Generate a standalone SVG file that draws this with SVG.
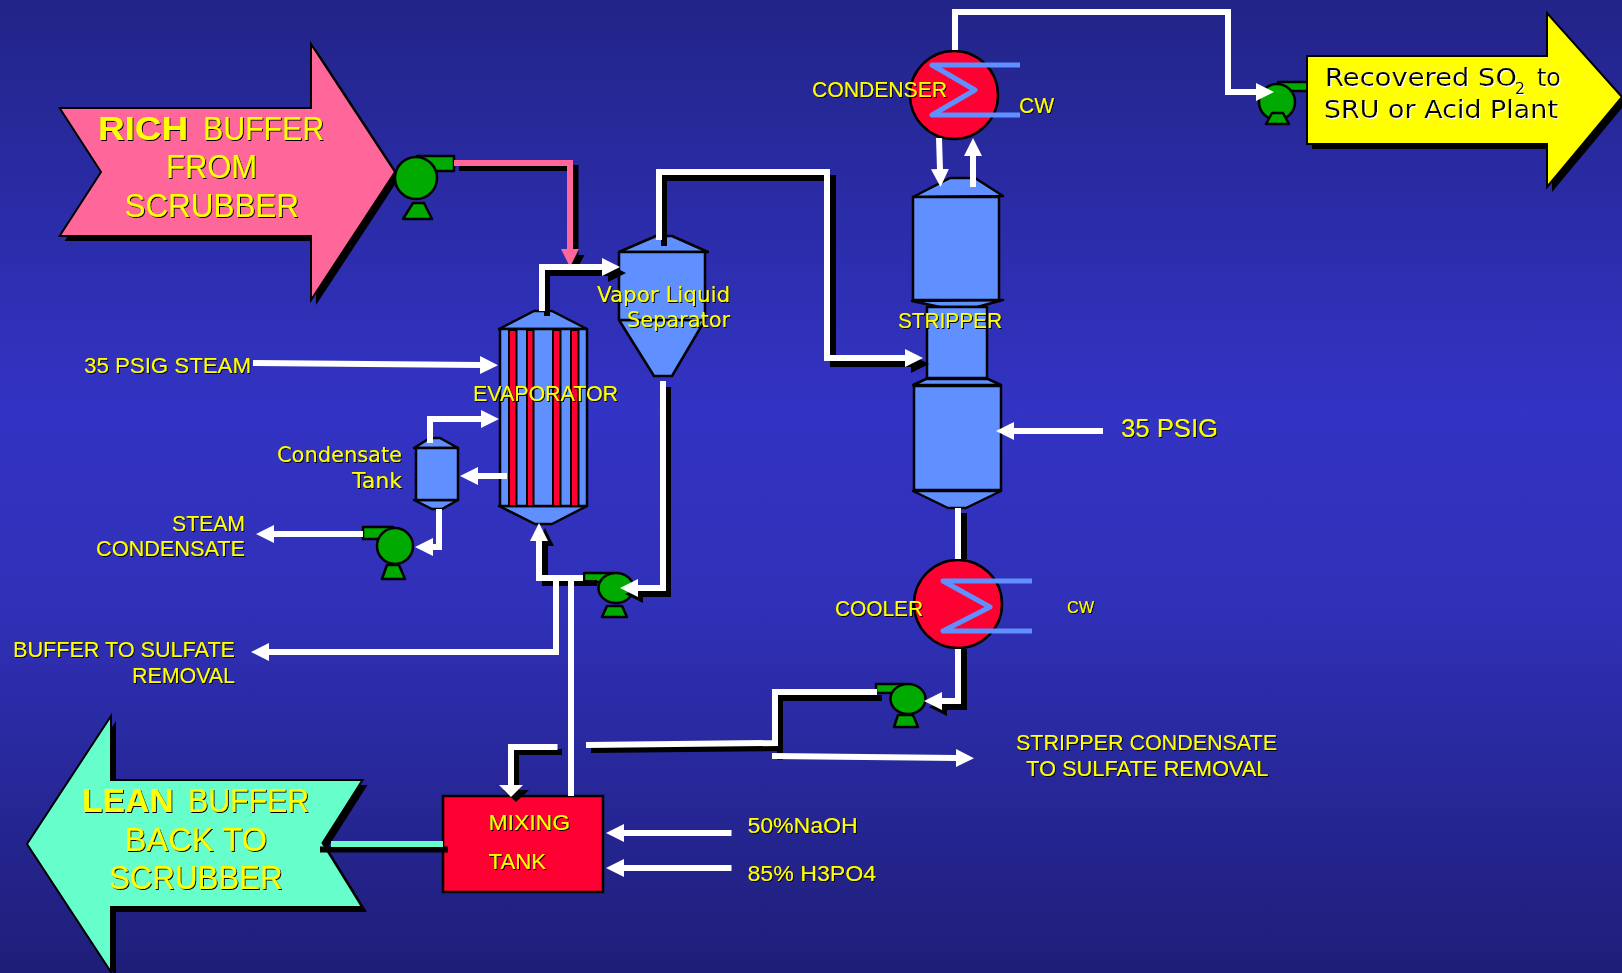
<svg xmlns="http://www.w3.org/2000/svg" width="1622" height="973" viewBox="0 0 1622 973">
<defs>
<linearGradient id="bg" x1="0" y1="0" x2="0" y2="1"><stop offset="0" stop-color="#222488"/><stop offset="0.42" stop-color="#3333c4"/><stop offset="0.62" stop-color="#3030b8"/><stop offset="1" stop-color="#1e1e78"/></linearGradient>
<filter id="ts" x="-5%" y="-20%" width="110%" height="140%"><feDropShadow dx="1" dy="1" stdDeviation="0" flood-color="#000"/></filter>
<filter id="tw" x="-5%" y="-20%" width="110%" height="140%"><feDropShadow dx="1" dy="1" stdDeviation="0" flood-color="#fff"/></filter>
<marker id="hw" markerWidth="18" markerHeight="20" refX="1" refY="10" orient="auto" markerUnits="userSpaceOnUse"><path d="M0 1L18 10L0 19z" fill="#fff"/></marker>
<marker id="hp" markerWidth="18" markerHeight="20" refX="1" refY="10" orient="auto" markerUnits="userSpaceOnUse"><path d="M0 1L18 10L0 19z" fill="#ff6699"/></marker>
<marker id="hsw" markerWidth="13" markerHeight="26" refX="1" refY="13" orient="auto" markerUnits="userSpaceOnUse"><path d="M0 1L12 13L0 25z" fill="#fff"/></marker>
</defs>
<style>
.eq{fill:#6090ff;stroke:#000;stroke-width:2.5;stroke-linejoin:round}
.tube{fill:#ff0033;stroke:#000;stroke-width:2}
.hx{fill:#ff0033;stroke:#000;stroke-width:2.5}
.coil{fill:none;stroke:#6090ff;stroke-width:5;stroke-linejoin:round}
.pu{fill:#00aa00;stroke:#000;stroke-width:2.5;stroke-linejoin:round}
.bs{stroke:#000;stroke-width:2;stroke-linejoin:miter}
.w{fill:none;stroke:#fff;stroke-width:6;marker-end:url(#hw)}
.wn{fill:none;stroke:#fff;stroke-width:6}
.kn{fill:none;stroke:#000;stroke-width:6}
text{font-family:"Liberation Sans",Arial,sans-serif;fill:#ffff00;filter:url(#ts)}
.big{font-size:34px}
.bold{font-weight:700}
.lab{font-size:22.500px}
.mix{font-family:"DejaVu Sans",Verdana,sans-serif;font-size:21px}
.rec{font-family:"DejaVu Sans",Verdana,sans-serif;font-size:25px;fill:#000;filter:url(#tw)}
</style>
<rect width="1622" height="973" fill="url(#bg)"/>

<g id="rich-arrow">
<polygon points="64.6,113 316,113 316,49 400,177 316,305 316,241 64.6,241 106,177" fill="#000"/>
<polygon points="59.6,108 311,108 311,44 395,172 311,300 311,236 59.6,236 101,172" fill="#ff6699" class="bs"/>
<text class="big bold" x="98" y="140" textLength="90" lengthAdjust="spacingAndGlyphs">RICH</text>
<text class="big" x="203" y="140" textLength="121" lengthAdjust="spacingAndGlyphs">BUFFER</text>
<text class="big" x="166" y="178" textLength="91" lengthAdjust="spacingAndGlyphs">FROM</text>
<text class="big" x="124.5" y="217" textLength="174.5" lengthAdjust="spacingAndGlyphs">SCRUBBER</text>
</g>

<g id="lean-arrow">
<polygon points="32,849 116,721 116,785 367.5,785 327.5,848 367,912 116,912 116,977" fill="#000"/>
<polygon points="27,844 111,716 111,780 362.5,780 322.5,843 362,907 111,907 111,972" fill="#66ffcc" class="bs"/>
<text class="big bold" x="82" y="812" textLength="91.500" lengthAdjust="spacingAndGlyphs">LEAN</text>
<text class="big" x="188" y="812" textLength="121" lengthAdjust="spacingAndGlyphs">BUFFER</text>
<text class="big" x="124.500" y="851" textLength="142.500" lengthAdjust="spacingAndGlyphs">BACK TO</text>
<text class="big" x="109" y="889" textLength="173.500" lengthAdjust="spacingAndGlyphs">SCRUBBER</text>
</g>

<g id="pump-recovered">
<rect class="pu" x="1278" y="82" width="32" height="9"/>
<circle class="pu" cx="1277" cy="102" r="18"/>
<polygon class="pu" points="1266,124 1272,113 1283,113 1289,124"/>
</g>

<g id="recovered-arrow">
<polygon points="1312,61 1552,61 1552,18 1627,102 1552,192 1552,149 1312,149" fill="#000"/>
<polygon points="1307,56 1547,56 1547,13 1622,97 1547,187 1547,144 1307,144" fill="#ffff00" class="bs"/>
<text class="rec" x="1325" y="86" textLength="192" lengthAdjust="spacingAndGlyphs">Recovered SO</text>
<text class="rec" x="1515" y="94" style="font-size:16px">2</text>
<text class="rec" x="1537" y="86" textLength="24" lengthAdjust="spacingAndGlyphs">to</text>
<text class="rec" x="1324" y="118" textLength="234" lengthAdjust="spacingAndGlyphs">SRU or Acid Plant</text>
</g>

<g id="pump-rich">
<rect class="pu" x="417" y="156" width="37" height="15"/>
<circle class="pu" cx="416" cy="178" r="21"/>
<polygon class="pu" points="403,219 413,203 424,203 432,219"/>
</g>

<g id="evaporator">
<polygon class="eq" points="499,329 534,311 552,311 587,329"/>
<polygon class="eq" points="499,506 535,524 552,524 587,506"/>
<rect class="eq" x="500" y="329" width="87" height="177"/>
<rect class="tube" x="509" y="330" width="7.500" height="176"/>
<rect class="tube" x="527" y="330" width="6.500" height="176"/>
<rect class="tube" x="553" y="330" width="7.500" height="176"/>
<rect class="tube" x="571" y="330" width="7.500" height="176"/>
<text class="lab" x="473" y="401" textLength="145" lengthAdjust="spacingAndGlyphs">EVAPORATOR</text>
</g>

<g id="separator">
<polygon class="eq" points="619,252 656,236 672,236 708,252"/>
<polygon class="eq" points="619,320 654,376 672,376 705,320"/>
<rect class="eq" x="619" y="252" width="86" height="68"/>
<text class="mix" x="597" y="302" textLength="133" lengthAdjust="spacingAndGlyphs">Vapor Liquid</text>
<text class="mix" x="627" y="327" textLength="103" lengthAdjust="spacingAndGlyphs">Separator</text>
</g>

<g id="condensate-tank">
<polygon class="eq" points="414,448 430,438 440,438 458,448"/>
<polygon class="eq" points="414,500 432,509 442,509 458,500"/>
<rect class="eq" x="416" y="448" width="42" height="52"/>
<text class="mix" x="277" y="462" textLength="125" lengthAdjust="spacingAndGlyphs">Condensate</text>
<text class="mix" x="352" y="488" textLength="50" lengthAdjust="spacingAndGlyphs">Tank</text>
</g>

<g id="pump-condensate">
<rect class="pu" x="363" y="527" width="30" height="12"/>
<circle class="pu" cx="395" cy="546" r="18"/>
<polygon class="pu" points="382,579 387,565 399,565 405,579"/>
</g>

<g id="pump-feed">
<rect class="pu" x="584" y="573" width="29" height="9"/>
<ellipse class="pu" cx="616" cy="588" rx="17.500" ry="15"/>
<polygon class="pu" points="602,617 607,606 622,606 627,617"/>
</g>

<g id="stripper">
<polygon class="eq" points="913,197 950,178 975,178 1003,196"/>
<polygon class="eq" points="912,301 940,307 977,307 1003,300"/>
<rect class="eq" x="927" y="307" width="60" height="71"/>
<polygon class="eq" points="913,385 926,379 988,379 1001,385"/>
<polygon class="eq" points="913,491 948,508 966,508 1001,491"/>
<rect class="eq" x="913" y="197" width="86" height="103"/>
<rect class="eq" x="914" y="386" width="87" height="104"/>
<text class="lab" x="898" y="328" textLength="104" lengthAdjust="spacingAndGlyphs">STRIPPER</text>
</g>

<g id="condenser">
<circle class="hx" cx="954" cy="95" r="44"/>
<polyline class="coil" points="1020,65 932,65 975,90 932,115 1020,115"/>
<text class="lab" x="812" y="97" textLength="135" lengthAdjust="spacingAndGlyphs">CONDENSER</text>
<text class="lab" x="1019" y="113" textLength="35" lengthAdjust="spacingAndGlyphs">CW</text>
</g>

<g id="cooler">
<circle class="hx" cx="958" cy="604" r="44"/>
<polyline class="coil" points="1032,581 943,581 990,607 943,631 1032,631"/>
<text class="lab" x="835" y="616" textLength="88" lengthAdjust="spacingAndGlyphs">COOLER</text>
<text class="lab" x="1067" y="613" textLength="27" lengthAdjust="spacingAndGlyphs" style="font-size:16px">CW</text>
</g>

<g id="pump-stripper">
<rect class="pu" x="876" y="684" width="29" height="9"/>
<ellipse class="pu" cx="908" cy="699" rx="17.500" ry="15"/>
<polygon class="pu" points="894,727 898,715 913,715 918,727"/>
</g>

<g id="mixing-tank">
<rect x="443" y="796" width="160" height="96" fill="#ff0033" stroke="#000" stroke-width="2.500"/>
<text class="lab" x="488.500" y="830" textLength="81.500" lengthAdjust="spacingAndGlyphs">MIXING</text>
<text class="lab" x="488.500" y="869" textLength="57.500" lengthAdjust="spacingAndGlyphs">TANK</text>
</g>

<g id="connectors">
<g id="pipe-shadows">
<polyline class="kn" points="459,168 575.500,168 575.500,256"/>
<polygon points="566.500,255 584.500,255 575.500,272"/>
<polyline class="kn" points="547,316 547,273 609,273"/>
<polygon points="608,264 608,282 626,273"/>
<polyline class="kn" points="664,246 664,178 833,178 833,364 912,364"/>
<polygon points="911,355 911,373 929,364"/>
<polyline class="kn" points="668,387 668,594 642,594"/>
<polygon points="643,585 643,603 625,594"/>
<polyline class="kn" points="597,583 545,583 545,545"/>
<polygon points="536,546 554,546 545,528"/>
<polyline class="kn" points="964,513 964,559"/>
<polyline class="kn" points="964,649 964,707 946,707"/>
<polygon points="947,698 947,716 929,707"/>
<polyline class="kn" points="591,750 780,748 780,698 882,698"/>
<line class="kn" x1="780" y1="748" x2="780" y2="760"/>
<polyline class="kn" points="562,752 516,752 516,790"/>
<polygon points="503,790 529,790 516,802"/>
<line class="kn" x1="320" y1="849.500" x2="448" y2="849.500"/>
</g>
<polyline points="454,163 570,163 570,250" style="fill:none;stroke:#ff6699;stroke-width:6;marker-end:url(#hp)"/>
<polyline class="w" points="542,311 542,267 603,267"/>
<line class="w" x1="253" y1="363" x2="481" y2="365"/>
<polyline class="w" points="430,443 430,419 482,419"/>
<line class="w" x1="507" y1="476" x2="477" y2="476"/>
<polyline class="w" points="439,509 439,547 432,547"/>
<line class="w" x1="363" y1="534" x2="273" y2="534"/>
<polyline class="w" points="659,240 659,172 827,172 827,358 906,358"/>
<polyline class="w" points="663,381 663,588 637,588"/>
<polyline class="w" points="583,578 539,578 539,540"/>
<polyline class="w" points="556,578 556,652 268,652"/>
<line class="wn" x1="571" y1="578" x2="571" y2="796"/>
<polyline class="wn" points="955,50 955,12 1228,12"/>
<polyline class="w" points="1228,9 1228,92 1257,92"/>
<line class="w" x1="939" y1="138" x2="940" y2="170"/>
<line class="w" x1="973" y1="187" x2="973" y2="155"/>
<line class="w" x1="1103" y1="431" x2="1013" y2="431"/>
<line class="wn" x1="958" y1="508" x2="958" y2="559"/>
<polyline class="w" points="958,649 958,701 941,701"/>
<polyline class="wn" points="586,745 775,743 775,692 877,692"/>
<line class="w" x1="772" y1="756" x2="957" y2="758"/>
<polyline points="557.500,747 511,747 511,786" style="fill:none;stroke:#fff;stroke-width:6;marker-end:url(#hsw)"/>
<line x1="331" y1="844" x2="443" y2="844" stroke="#66ffcc" stroke-width="6"/>
<line class="w" x1="731.500" y1="833" x2="623" y2="833"/>
<line class="w" x1="731.500" y1="868" x2="623" y2="868"/>
</g>

<g id="labels">
<text class="lab" x="84" y="373" textLength="167" lengthAdjust="spacingAndGlyphs">35 PSIG STEAM</text>
<text class="lab" x="172" y="531" textLength="73" lengthAdjust="spacingAndGlyphs">STEAM</text>
<text class="lab" x="96" y="556" textLength="149" lengthAdjust="spacingAndGlyphs">CONDENSATE</text>
<text class="lab" x="13" y="657" textLength="222" lengthAdjust="spacingAndGlyphs">BUFFER TO SULFATE</text>
<text class="lab" x="132" y="683" textLength="103" lengthAdjust="spacingAndGlyphs">REMOVAL</text>
<text class="lab" x="1121" y="437" textLength="97" lengthAdjust="spacingAndGlyphs" style="font-size:25px">35 PSIG</text>
<text class="lab" x="1016" y="750" textLength="261" lengthAdjust="spacingAndGlyphs">STRIPPER CONDENSATE</text>
<text class="lab" x="1026" y="776" textLength="242.500" lengthAdjust="spacingAndGlyphs">TO SULFATE REMOVAL</text>
<text class="lab" x="747.500" y="833" textLength="110" lengthAdjust="spacingAndGlyphs">50%NaOH</text>
<text class="lab" x="747.500" y="881" textLength="128.500" lengthAdjust="spacingAndGlyphs">85% H3PO4</text>
</g>
</svg>
